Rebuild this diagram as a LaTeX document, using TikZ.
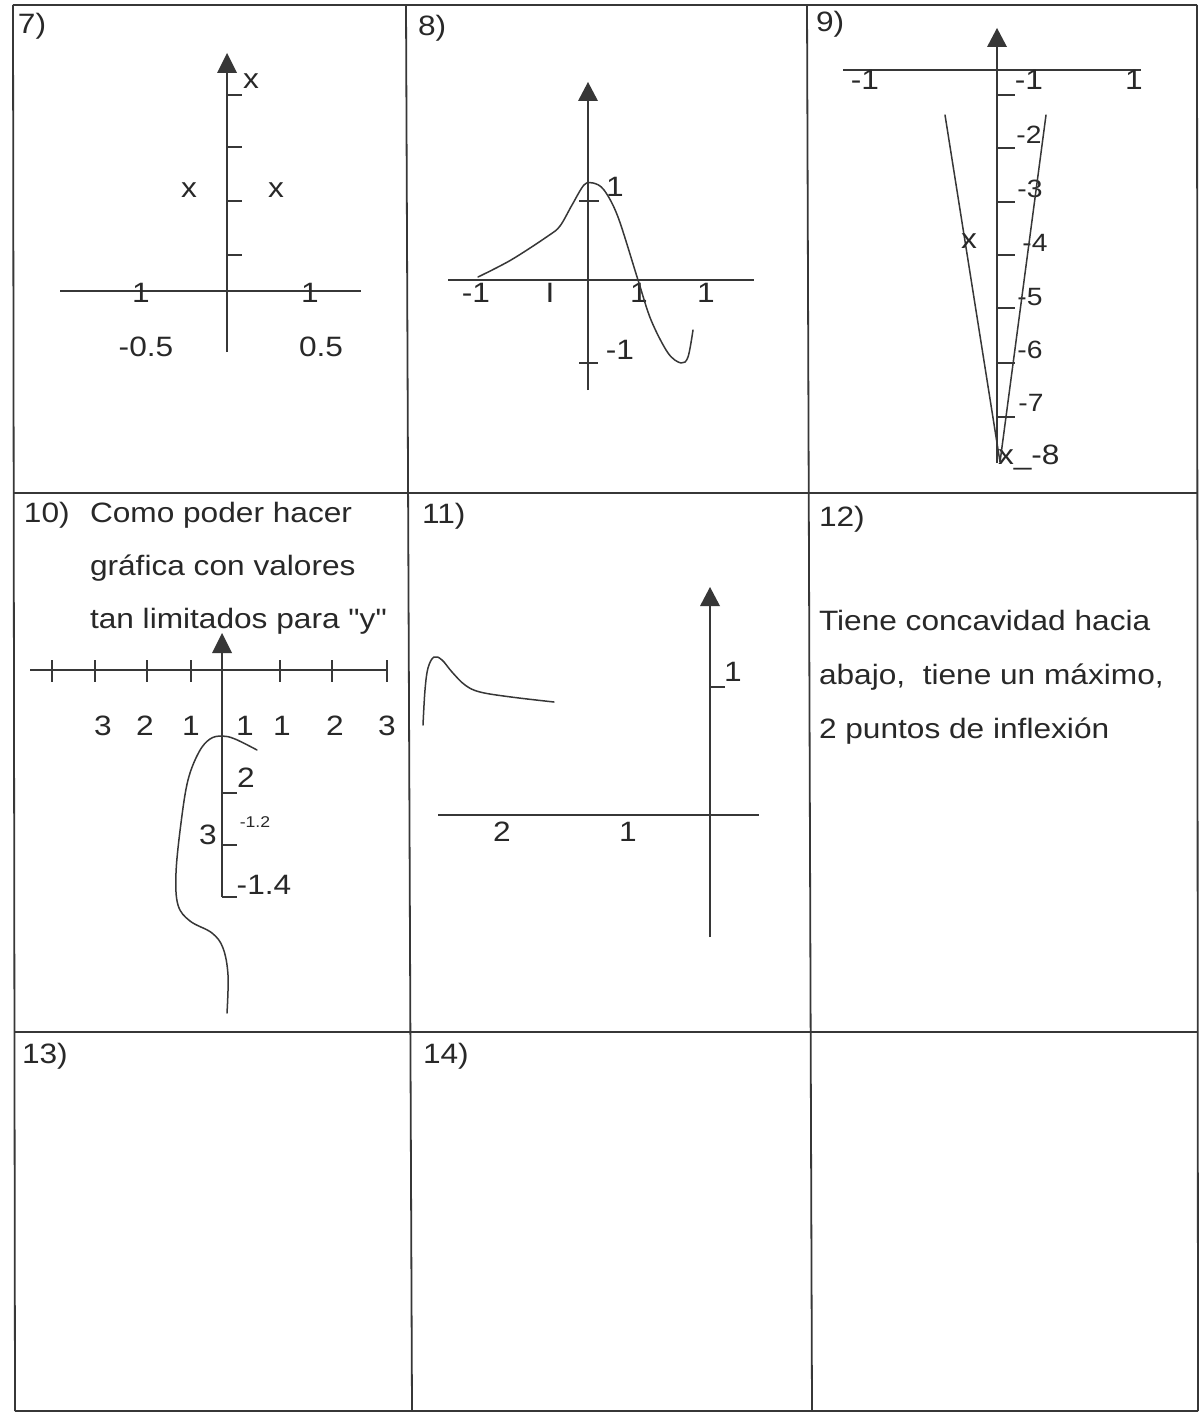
\documentclass[tikz,border=0pt]{standalone}
\usepackage{fontspec}
\setmainfont{Liberation Sans}[FakeStretch=1.13]
\newfontfamily\qfont{Liberation Sans}[FakeStretch=1.13]
\definecolor{inkc}{RGB}{40,40,40}
\definecolor{linec}{RGB}{55,55,55}
\newcommand\fmain{\fontsize{14}{17}\selectfont}
\newcommand\fsmall{\fontsize{12.5}{15}\selectfont}
\newcommand\ftiny{\fontsize{7.8}{9}\selectfont}
\begin{document}
\begin{tikzpicture}[x=0.5pt,y=-0.5pt,
  gridline/.style={draw=linec,line width=0.9pt},
  axis/.style={draw=linec,line width=0.75pt},
  curve/.style={draw=linec,line width=0.75pt,line cap=round,line join=round},
  lbl/.style={inner sep=0pt,outer sep=0pt,text=inkc,font=\fmain},
  sml/.style={inner sep=0pt,outer sep=0pt,text=inkc,font=\fsmall},
  tny/.style={inner sep=0pt,outer sep=0pt,text=inkc,font=\ftiny},
  ahead/.style={fill=linec}]
\fill[white] (0,0) rectangle (1201,1412);
\path[use as bounding box] (0,0) rectangle (1201,1412);

% ---------- grid ----------
\draw[gridline] (13,5) -- (1197,5);
\draw[gridline] (13,493) -- (1197,493);
\draw[gridline] (14,1032) -- (1198,1032);
\draw[gridline] (15,1411) -- (1198,1411);
\draw[gridline] (13,5) -- (15,1411);
\draw[gridline] (406,5) -- (412,1411);
\draw[gridline] (807,5) -- (812,1411);
\draw[gridline] (1197,5) -- (1198,1411);

% ---------- cell 7 ----------
\node[lbl,anchor=base west] (t7) at (18,34) {7)};
\draw[axis] (227,352) -- (227,70);
\fill[ahead] (227,53) -- (217,73) -- (237,73) -- cycle;
\foreach \yy in {95,147,201,255} \draw[axis] (227,\yy) -- (242,\yy);
\draw[axis] (60,291) -- (361,291);
\node[lbl] (a7l) at (141,293) {1};
\node[lbl] (a7r) at (310,293) {1};
\node[lbl] (x7a) at (251,81) {x};
\node[lbl] (x7b) at (189,190) {x};
\node[lbl] (x7c) at (276,190) {x};
\node[lbl] (m7l) at (146,347) {-0.5};
\node[lbl] (m7r) at (321,347) {0.5};

% ---------- cell 8 ----------
\node[lbl,anchor=base west] (t8) at (418,36) {8)};
\draw[axis] (588,390) -- (588,98);
\fill[ahead] (588,82) -- (578,101) -- (598,101) -- cycle;
\draw[axis] (448,280) -- (754,280);
\draw[axis] (579,201) -- (599,201);
\draw[axis] (579,363) -- (598,363);
\node[lbl] (y8a) at (615,187) {1};
\node[lbl] (y8b) at (620,350) {-1};
\node[lbl] (x8a) at (476,293) {-1};
\node[lbl] (x8b) at (550,293) {I};
\node[lbl] (x8c) at (639,293) {1};
\node[lbl] (x8d) at (706,293) {1};
\draw[curve] plot[smooth,tension=0.55] coordinates {(478,277) (511,260) (548,236) (560,226) (572,205) (584,185) (593,183) (604,190) (618,217) (638,280) (651,320) (668,353) (681,363) (688,357) (693,330)};

% ---------- cell 9 ----------
\node[lbl,anchor=base west] (t9) at (816,32) {9)};
\draw[axis] (997,463) -- (997,44);
\fill[ahead] (997,28) -- (987,47) -- (1007,47) -- cycle;
\draw[axis] (843,70) -- (1141,70);
\node[lbl] (x9a) at (865,80) {-1};
\node[lbl] (x9b) at (1029,80) {-1};
\node[lbl] (x9c) at (1134,80) {1};
\foreach \yy in {95,148,202,255,308,363,417} \draw[axis] (998,\yy) -- (1015,\yy);
\node[sml] (y9b) at (1029,135) {-2};
\node[sml] (y9c) at (1030,189) {-3};
\node[sml] (y9d) at (1035,243) {-4};
\node[sml] (y9e) at (1030,297) {-5};
\node[sml] (y9f) at (1030,350) {-6};
\node[sml] (y9g) at (1031,403) {-7};
\node[lbl,anchor=base west] (y9h) at (998,464) {x\_-8};
\draw[curve] (945,115) -- (1000,462) -- (1046,115);
\node[lbl] (p9) at (969,241) {x};

% ---------- cell 10 ----------
\node[lbl,anchor=base west] (t10) at (24,522) {10)};
\node[lbl,anchor=base west] (s10a) at (90,522) {Como poder hacer};
\node[lbl,anchor=base west] (s10b) at (90,575) {gráfica con valores};
\node[lbl,anchor=base west] (s10c) at (90,628) {tan limitados para {\qfont"y"}};
\draw[axis] (222,897) -- (222,650);
\fill[ahead] (222,633) -- (212,653) -- (232,653) -- cycle;
\draw[axis] (30,670) -- (388,670);
\foreach \xx in {52,95,147,191,280,332,387} \draw[axis] (\xx,660) -- (\xx,682);
\node[lbl] (n10a) at (103,726) {3};
\node[lbl] (n10b) at (145,726) {2};
\node[lbl] (n10c) at (191,726) {1};
\node[lbl] (n10d) at (245,726) {1};
\node[lbl] (n10e) at (282,726) {1};
\node[lbl] (n10f) at (335,726) {2};
\node[lbl] (n10g) at (387,726) {3};
\foreach \yy in {793,845,897} \draw[axis] (222,\yy) -- (237,\yy);
\node[lbl] (v10a) at (246,778) {2};
\node[tny] (v10b) at (255,822) {-1.2};
\node[lbl] (v10c) at (208,835) {3};
\node[lbl] (v10d) at (264,885) {-1.4};
\draw[curve] plot[smooth,tension=0.6] coordinates {(257,750) (235,739) (222,736) (210,739) (199,752) (188,780) (181,823) (176,873) (178,905) (190,921) (212,933) (223,948) (228,975) (227,1013)};

% ---------- cell 11 ----------
\node[lbl,anchor=base west] (t11) at (422,523) {11)};
\draw[axis] (710,937) -- (710,600);
\fill[ahead] (710,587) -- (700,606) -- (720,606) -- cycle;
\draw[axis] (438,815) -- (759,815);
\draw[axis] (710,687) -- (725,687);
\node[lbl] (y11) at (733,672) {1};
\node[lbl] (x11a) at (502,832) {2};
\node[lbl] (x11b) at (628,832) {1};
\draw[curve] plot[smooth,tension=0.6] coordinates {(423,725) (425,690) (428,668) (434,657) (442,660) (452,672) (465,685) (480,692) (511,697) (554,702)};

% ---------- cell 12 ----------
\node[lbl,anchor=base west] (t12) at (819,526) {12)};
\node[lbl,anchor=base west] (s12a) at (819,630) {Tiene concavidad hacia};
\node[lbl,anchor=base west] (s12b) at (819,684) {abajo,\ \ tiene un máximo,};
\node[lbl,anchor=base west] (s12c) at (819,738) {2 puntos de inflexión};

% ---------- cells 13, 14 ----------
\node[lbl,anchor=base west] (t13) at (22,1063) {13)};
\node[lbl,anchor=base west] (t14) at (423,1063) {14)};
\end{tikzpicture}
\end{document}
